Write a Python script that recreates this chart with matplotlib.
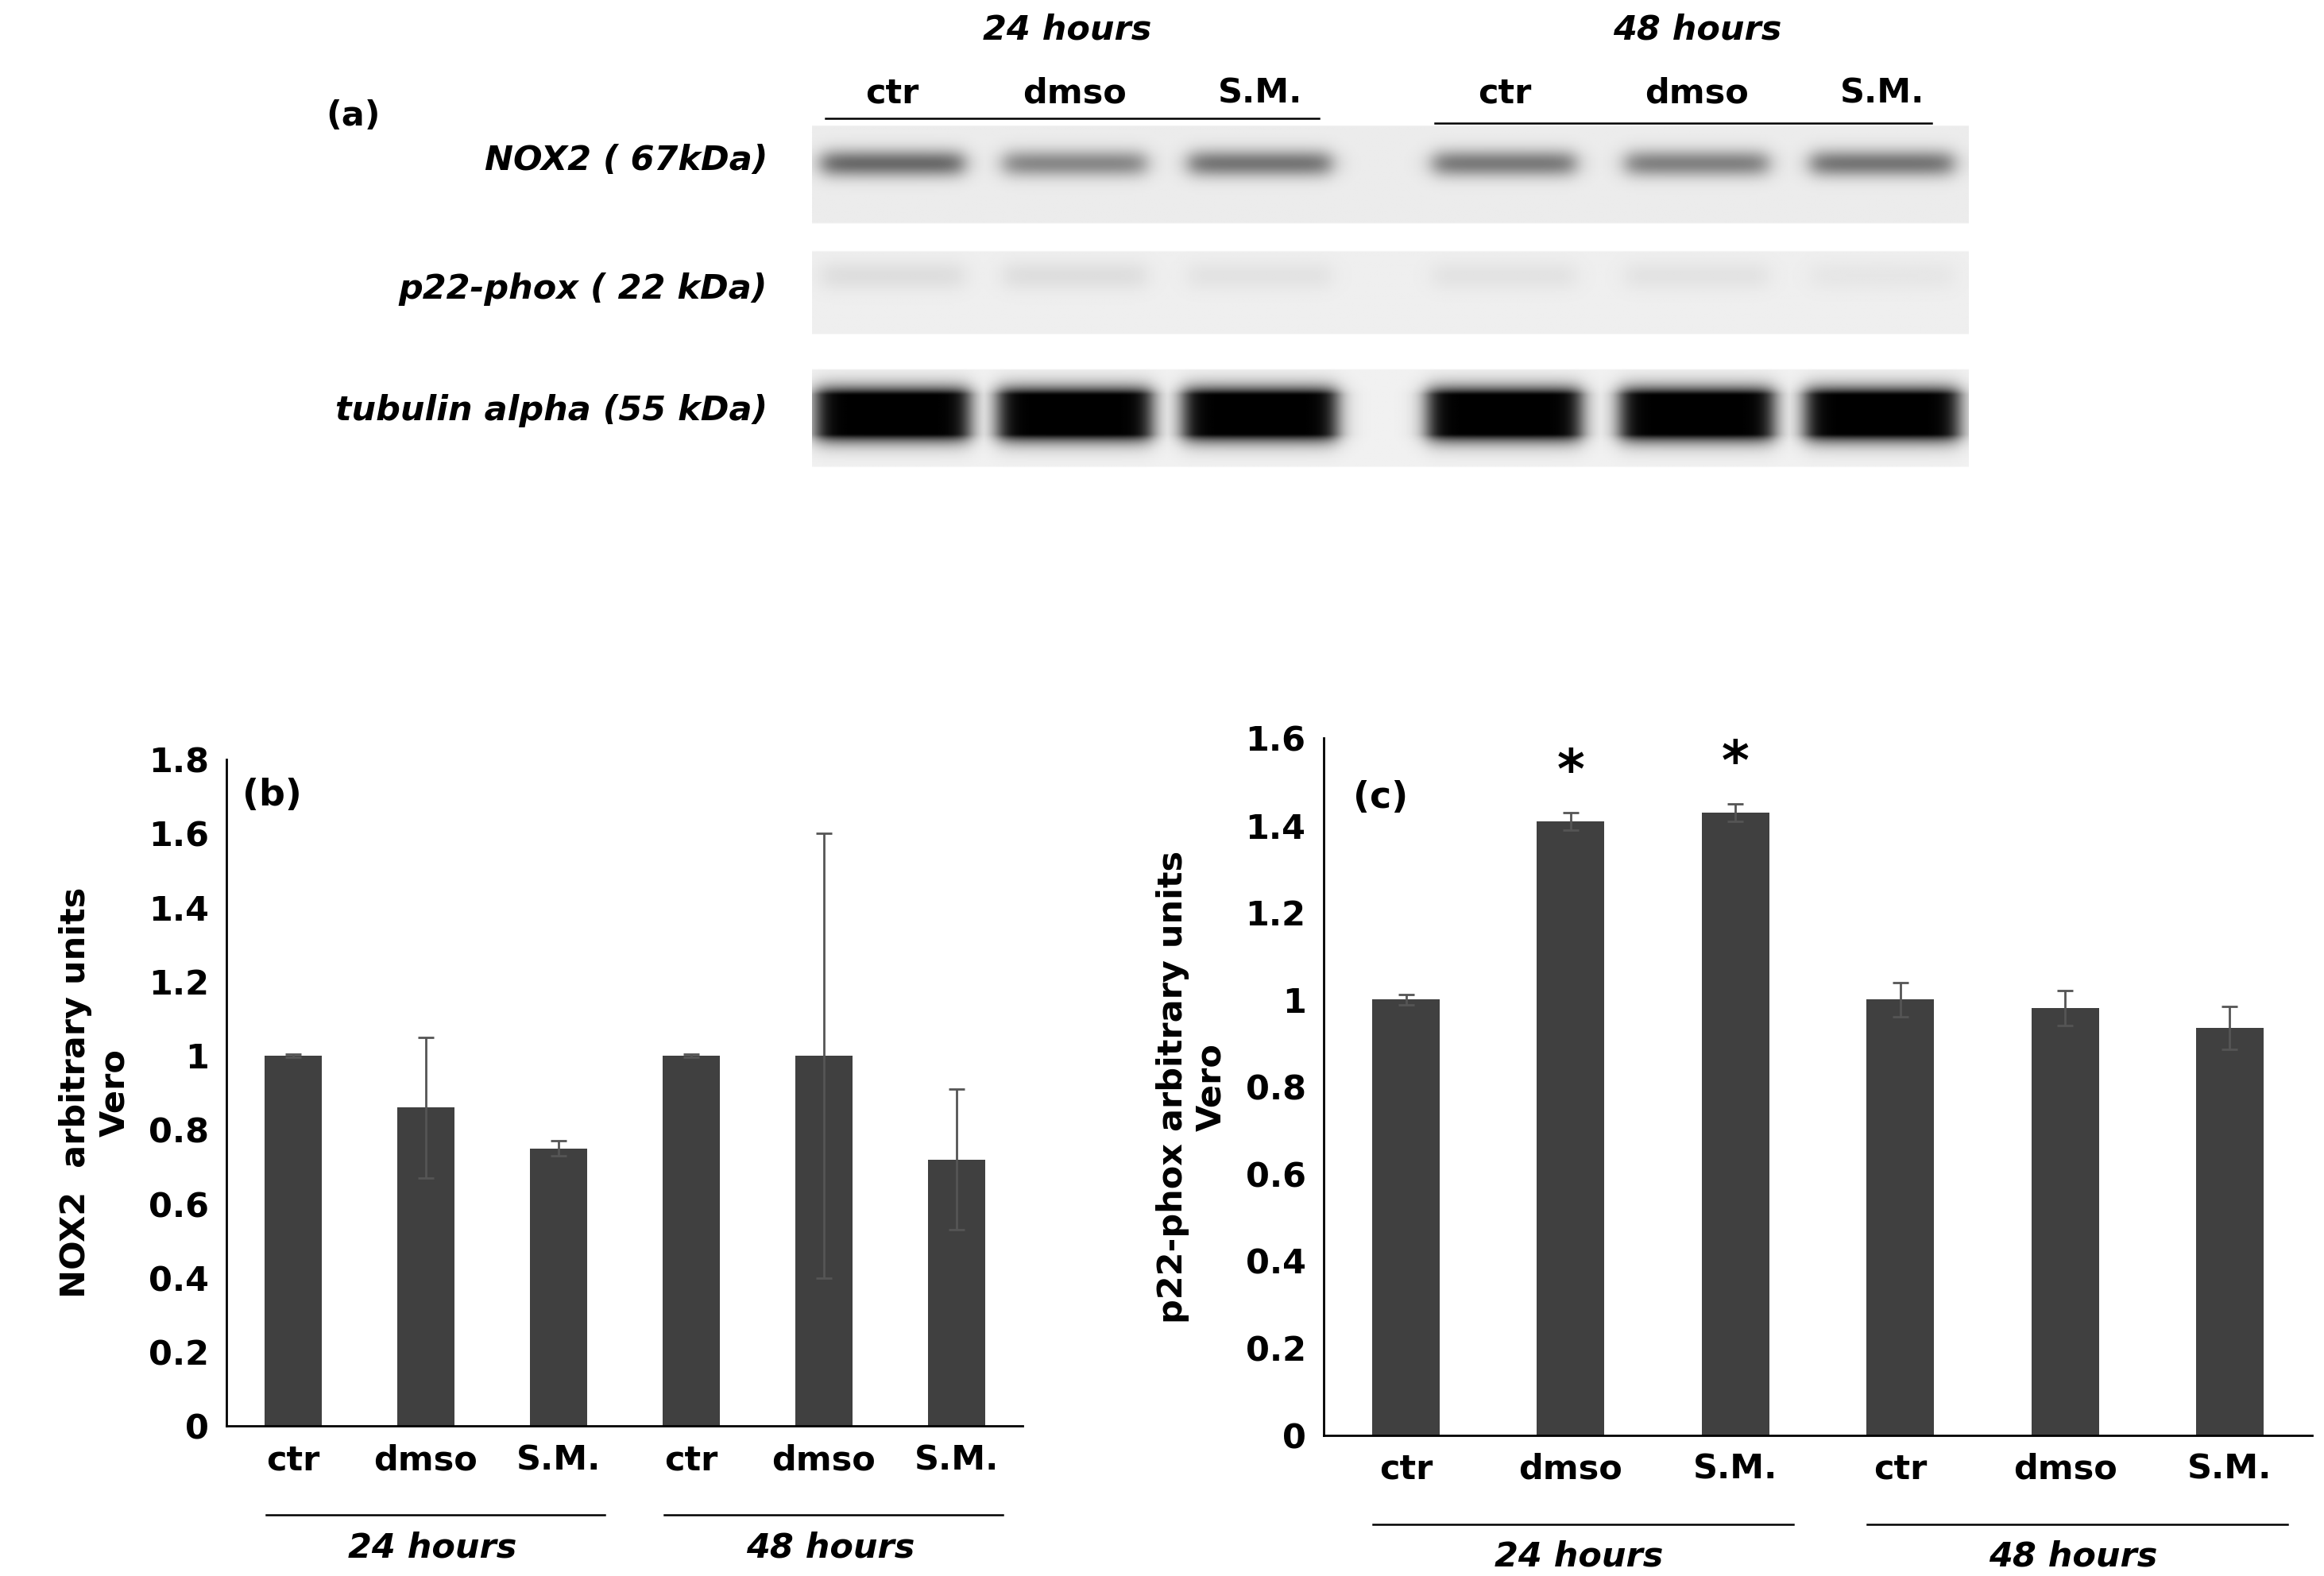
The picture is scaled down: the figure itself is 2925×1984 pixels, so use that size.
import numpy as np
import matplotlib
matplotlib.use("Agg")
import matplotlib.pyplot as plt
import matplotlib.transforms as mtrans

lanes = ["ctr", "dmso", "S.M.", "ctr", "dmso", "S.M."]
groups = ["24 hours", "48 hours"]
nox2 = [1.0, 0.86, 0.75, 1.0, 1.0, 0.72]
nox2_err = [0.005, 0.19, 0.02, 0.005, 0.60, 0.19]
p22 = [1.0, 1.41, 1.43, 1.0, 0.98, 0.935]
p22_err = [0.012, 0.02, 0.02, 0.04, 0.04, 0.05]
p22_sig = [False, True, True, False, False, False]
blot_rows = ["NOX2 ( 67kDa)", "p22-phox ( 22 kDa)", "tubulin alpha (55 kDa)"]
band_nox2 = [0.55, 0.42, 0.5, 0.48, 0.45, 0.5]
band_p22 = [0.07, 0.07, 0.05, 0.05, 0.05, 0.035]
band_tub = [1.0, 1.0, 1.0, 1.0, 1.0, 1.0]

W, H = 1568, 1063
fig = plt.figure(figsize=(29.25, 19.84), dpi=100)
FS = 31
BAR = "#404040"

def fx(x): return x / W
def fy(y): return 1 - y / H

# ---------- blot panel ----------
lane_x = [602, 725, 850, 1015, 1145, 1270]
bax = fig.add_axes([fx(548), fy(320), fx(1328 - 548), (320 - 80) / H])
xs = np.arange(548, 1329)
ys = np.arange(80, 321)
X, Y = np.meshgrid(xs, ys)
img = np.ones_like(X, dtype=float)
strips = [(85, 150, 0.925, 110, 6.5, band_nox2, 48),
          (170, 225, 0.935, 186, 7, band_p22, 48),
          (250, 315, 0.945, 280, 10, band_tub, 52)]
for (y0, y1, bg, yc, sg, vals, hw) in strips:
    m = (Y >= y0) & (Y <= y1)
    dark = np.zeros_like(img)
    for lx, v in zip(lane_x, vals):
        prof_x = 1 / (1 + np.exp((np.abs(X - lx) - hw) / 4))
        prof_y = np.exp(-0.5 * ((Y - yc) / sg) ** 2)
        if v >= 1:
            prof_y = np.clip(prof_y * 2.5, 0, 1)
        dark = np.maximum(dark, v * prof_x * prof_y)
    img[m] = (bg * (1 - dark))[m]
bax.imshow(img, cmap="gray", vmin=0, vmax=1, extent=(547.5, 1328.5, 320.5, 79.5),
           aspect="auto", interpolation="bilinear")
bax.axis("off")
for lab, yc in zip(blot_rows, [108, 195, 277]):
    fig.text(fx(518), fy(yc), lab, ha="right", va="center", fontsize=FS,
             fontweight="bold", style="italic")
fig.text(fx(220), fy(78), "(a)", ha="left", va="center", fontsize=FS, fontweight="bold")
for lx, lab in zip(lane_x, lanes):
    fig.text(fx(lx), fy(63), lab, ha="center", va="center", fontsize=FS, fontweight="bold")
fig.text(fx(720), fy(20), groups[0], ha="center", va="center", fontsize=FS,
         fontweight="bold", style="italic")
fig.text(fx(1145), fy(20), groups[1], ha="center", va="center", fontsize=FS,
         fontweight="bold", style="italic")
fig.add_artist(plt.Line2D([fx(557), fx(890)], [fy(80), fy(80)], color="black", lw=1.8))
fig.add_artist(plt.Line2D([fx(968), fx(1303)], [fy(83), fy(83)], color="black", lw=1.8))

# ---------- bar panels ----------
def bar_panel(rect, base_y, vals, errs, ymax, ystep, width, ylabel, tag, tagpos, sig=None):
    ax = fig.add_axes(rect)
    pos = np.arange(len(vals))
    ax.bar(pos, vals, width=width, color=BAR, zorder=2)
    ax.errorbar(pos, vals, yerr=errs, fmt="none", ecolor="#555555", elinewidth=2,
                capsize=7, capthick=2, zorder=3)
    ax.set_xlim(-0.5, 5.5)
    ax.set_ylim(0, ymax)
    ticks = np.round(np.arange(0, ymax + 1e-9, ystep), 1)
    ax.set_yticks(ticks)
    ax.set_yticklabels([("%g" % t) for t in ticks], fontsize=FS, fontweight="bold")
    ax.set_xticks(pos)
    ax.set_xticklabels(lanes, fontsize=FS, fontweight="bold")
    ax.tick_params(axis="both", length=0, pad=16)
    for s in ["top", "right"]:
        ax.spines[s].set_visible(False)
    for s in ["left", "bottom"]:
        ax.spines[s].set_linewidth(2)
    ax.set_ylabel(ylabel, fontsize=FS, fontweight="bold", labelpad=16)
    ax.text(tagpos[0], tagpos[1], tag, transform=ax.transAxes, fontsize=FS + 2,
            fontweight="bold")
    tr = mtrans.blended_transform_factory(ax.transData, fig.transFigure)
    for gi, g in enumerate(groups):
        a, b = gi * 3 - 0.2, gi * 3 + 2.35
        ax.plot([a, b], [fy(base_y + 60)] * 2, transform=tr, color="black", lw=1.8,
                clip_on=False)
        ax.text(gi * 3 + 1.05, fy(base_y + 82), g, transform=tr, ha="center", va="center",
                fontsize=FS, fontweight="bold", style="italic")
    if sig:
        for p, v, e, s in zip(pos, vals, errs, sig):
            if s:
                ax.text(p, v + e + 0.03, "*", ha="center", va="bottom", fontsize=48,
                        fontweight="bold")
    return ax

bar_panel([fx(153), fy(962), fx(690 - 153), (962 - 512) / H], 962, nox2, nox2_err, 1.8, 0.2,
          0.43, "NOX2  arbitrary units\nVero", "(b)", (0.02, 0.93))
bar_panel([fx(893), fy(968), fx(1560 - 893), (968 - 498) / H], 968, p22, p22_err, 1.6, 0.2,
          0.41, "p22-phox arbitrary units\nVero", "(c)", (0.03, 0.9), sig=p22_sig)

fig.savefig("out.png", dpi=100)
